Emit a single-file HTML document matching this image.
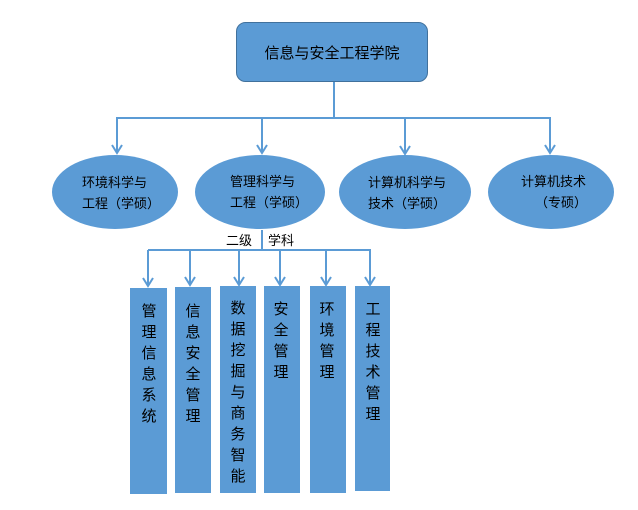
<!DOCTYPE html>
<html><head><meta charset="utf-8"><style>
html,body{margin:0;padding:0;background:#fff;}
svg{display:block;}
text{font-family:"Liberation Sans","Noto Sans CJK SC",sans-serif;fill:#000;}
</style></head><body>
<svg width="638" height="510" viewBox="0 0 638 510" xmlns="http://www.w3.org/2000/svg">
<rect x="236.5" y="22.5" width="191" height="59" rx="9" fill="#5b9bd5" stroke="#41719c" stroke-width="1"/>
<text x="332" y="58" font-size="15" text-anchor="middle">信息与安全工程学院</text>
<g stroke="#5b9bd5" stroke-width="2" fill="none">
<line x1="334" y1="82" x2="334" y2="118"/>
<line x1="116" y1="118" x2="551" y2="118"/>
<line x1="117" y1="118" x2="117" y2="153"/>
<line x1="262" y1="118" x2="262" y2="153"/>
<line x1="405" y1="118" x2="405" y2="154"/>
<line x1="550" y1="118" x2="550" y2="153"/>
<path d="M112,145 L117,153 L122,145 M257,145 L262,153 L267,145 M400,146 L405,154 L410,146 M545,145 L550,153 L555,145"/>
<line x1="262" y1="230" x2="262" y2="250"/>
<line x1="148" y1="250" x2="371" y2="250"/>
<line x1="148" y1="250" x2="148" y2="286"/>
<line x1="190" y1="250" x2="190" y2="285"/>
<line x1="239" y1="250" x2="239" y2="285"/>
<line x1="280" y1="250" x2="280" y2="285"/>
<line x1="326" y1="250" x2="326" y2="285"/>
<line x1="370" y1="250" x2="370" y2="285"/>
<path d="M143,278 L148,286 L153,278 M185,277 L190,285 L195,277 M234,277 L239,285 L244,277 M275,277 L280,285 L285,277 M321,277 L326,285 L331,277 M365,277 L370,285 L375,277"/>
</g>
<g fill="#5b9bd5">
<ellipse cx="115" cy="192" rx="63" ry="37"/>
<ellipse cx="260" cy="192" rx="65" ry="37"/>
<ellipse cx="405" cy="192" rx="66" ry="37"/>
<ellipse cx="551" cy="192" rx="63" ry="37"/>
</g>
<g font-size="13">
<text x="82" y="187">环境科学与</text>
<text x="82" y="208">工程（学硕）</text>
<text x="230" y="186">管理科学与</text>
<text x="230" y="207">工程（学硕）</text>
<text x="368" y="187">计算机科学与</text>
<text x="368" y="208">技术（学硕）</text>
<text x="521" y="186">计算机技术</text>
<text x="535" y="207">（专硕）</text>
<text x="226" y="245">二级</text>
<text x="268" y="245">学科</text>
</g>
<g fill="#5b9bd5">
<rect x="130" y="288" width="37" height="206"/>
<rect x="175" y="287" width="36" height="206"/>
<rect x="220" y="286" width="36" height="207"/>
<rect x="264" y="286" width="36" height="207"/>
<rect x="310" y="286" width="36" height="207"/>
<rect x="355" y="286" width="35" height="205"/>
</g>
<g font-size="15" text-anchor="middle">
<text x="149" y="316">管</text><text x="149" y="337">理</text><text x="149" y="358">信</text><text x="149" y="379">息</text><text x="149" y="400">系</text><text x="149" y="421">统</text>
<text x="193" y="316">信</text><text x="193" y="337">息</text><text x="193" y="358">安</text><text x="193" y="379">全</text><text x="193" y="400">管</text><text x="193" y="421">理</text>
<text x="238" y="313">数</text><text x="238" y="334">据</text><text x="238" y="355">挖</text><text x="238" y="376">掘</text><text x="238" y="397">与</text><text x="238" y="418">商</text><text x="238" y="439">务</text><text x="238" y="460">智</text><text x="238" y="481">能</text>
<text x="281" y="314">安</text><text x="281" y="335">全</text><text x="281" y="356">管</text><text x="281" y="377">理</text>
<text x="327" y="314">环</text><text x="327" y="335">境</text><text x="327" y="356">管</text><text x="327" y="377">理</text>
<text x="373" y="314">工</text><text x="373" y="335">程</text><text x="373" y="356">技</text><text x="373" y="377">术</text><text x="373" y="398">管</text><text x="373" y="419">理</text>
</g>
</svg>
</body></html>
